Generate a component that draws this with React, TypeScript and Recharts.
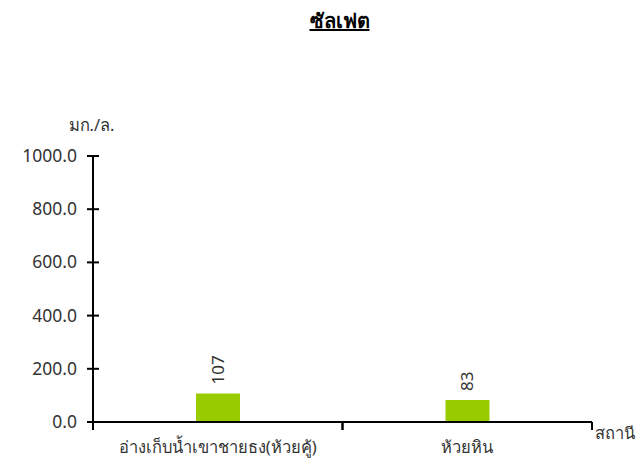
import { BarChart, Bar, XAxis, YAxis, LabelList, Label } from 'recharts'

const stations = ['อ่างเก็บน้ำเขาชายธง(ห้วยคู้)', 'ห้วยหิน']
const sulfate = [107, 83]
const yTicks = [0, 200, 400, 600, 800, 1000]

const data = stations.map((name, i) => ({ name, value: sulfate[i] }))

const FONT = "Tahoma, 'Noto Sans', 'DejaVu Sans', sans-serif"
const TEXT = '#333'

// y ticks cross the axis line on both sides
function YTick(props: any) {
  const { x, y, payload } = props
  const axisX = x + 10 + 6
  return (
    <g>
      <line x1={axisX - 6} x2={axisX + 6} y1={y} y2={y} stroke="#000" strokeWidth={2} />
      <text x={x} y={y} dy={6} textAnchor="end" fill={TEXT} fontSize={17.5} fontFamily={FONT}>
        {Number(payload.value).toFixed(1)}
      </text>
    </g>
  )
}

// x ticks sit on the category boundaries, labels in the middle
function XTick(props: any) {
  const { x, y, payload, width, visibleTicksCount } = props
  const half = width / visibleTicksCount / 2
  const axisY = y - 4
  return (
    <g>
      <line x1={x - half} x2={x - half} y1={axisY} y2={axisY + 8} stroke="#000" strokeWidth={2} />
      <line x1={x + half} x2={x + half} y1={axisY} y2={axisY + 8} stroke="#000" strokeWidth={2} />
      <text x={x} y={axisY} dy={31} textAnchor="middle" fill={TEXT} fontSize={16.5} fontFamily={FONT}>
        {payload.value}
      </text>
    </g>
  )
}

function ValueLabel(props: any) {
  const { x, y, width, value } = props
  const cx = x + width / 2
  const ty = y - 9
  return (
    <text
      x={cx}
      y={ty}
      transform={`rotate(-90 ${cx} ${ty})`}
      dy={6}
      textAnchor="start"
      fill={TEXT}
      fontSize={17}
      fontFamily={FONT}
    >
      {value}
    </text>
  )
}

export default function App() {
  return (
    <div style={{ position: 'absolute', left: 0, top: 0, width: 639, height: 468, background: '#fff' }}>
      <div
        style={{
          position: 'absolute',
          top: 5,
          left: 40,
          width: 599,
          textAlign: 'center',
          fontFamily: FONT,
          fontWeight: 'bold',
          fontSize: 20,
          textDecoration: 'underline',
          color: '#000',
        }}
      >
        ซัลเฟต
      </div>
      <BarChart
        width={639}
        height={468}
        data={data}
        margin={{ top: 156, right: 47, left: 0, bottom: 0 }}
      >
        <YAxis
          width={93}
          domain={[0, 1000]}
          ticks={yTicks}
          interval={0}
          tickLine={false}
          tickSize={6}
          tickMargin={10}
          axisLine={{ stroke: '#000', strokeWidth: 2 }}
          tick={<YTick />}
        >
          <Label
            value="มก./ล."
            position="top"
            offset={25}
            dx={45}
            fill={TEXT}
            fontSize={16.5}
            fontFamily={FONT}
          />
        </YAxis>
        <XAxis
          dataKey="name"
          height={46}
          interval={0}
          tickLine={false}
          tickSize={0}
          tickMargin={4}
          axisLine={{ stroke: '#000', strokeWidth: 2 }}
          tick={<XTick />}
        >
          <Label
            value="สถานี"
            position="right"
            offset={3}
            dy={-12}
            fill={TEXT}
            fontSize={16.5}
            fontFamily={FONT}
          />
        </XAxis>
        <Bar dataKey="value" fill="#99cc00" barSize={44} isAnimationActive={false}>
          <LabelList dataKey="value" content={<ValueLabel />} />
        </Bar>
      </BarChart>
    </div>
  )
}
